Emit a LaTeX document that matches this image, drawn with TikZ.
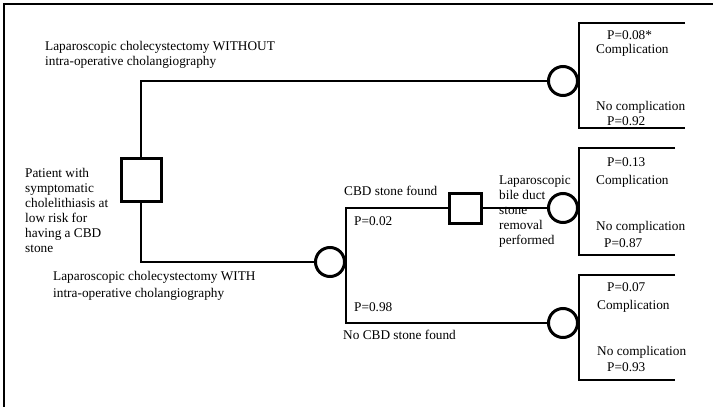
\documentclass[tikz,border=0pt]{standalone}
\usepackage{fontspec}
\setmainfont{Liberation Serif}
\usepackage{tikz}

\begin{document}
\begin{tikzpicture}[x=1pt, y=-1pt,
    decision/.style={rectangle, draw, line width=3pt, inner sep=0pt},
    chance/.style={circle, draw, line width=3pt, minimum size=29pt, inner sep=0pt},
    lbl/.style={anchor=west, inner sep=0pt, align=left, font=\fontsize{13.3}{15}\selectfont},
    branch/.style={line width=1.3pt}]
    \useasboundingbox (0,0) rectangle (713,407);
    \draw[line width=1.5pt] (4,407) -- (4,4) -- (713,4);

    \node[decision, minimum width=40pt, minimum height=43pt] (start) at (141,180) {};
    \node[decision, minimum width=32pt, minimum height=30pt] (removal) at (465,208) {};
    \node[chance] (noioc) at (563,81) {};
    \node[chance] (ioc) at (330,262) {};
    \node[chance] (found) at (563,208) {};
    \node[chance] (notfound) at (563,323) {};

    \coordinate (noioctop) at (685,23);
    \coordinate (noiocbot) at (685,128);
    \coordinate (foundtop) at (675,148);
    \coordinate (foundbot) at (675,255);
    \coordinate (notfoundtop) at (675,275);
    \coordinate (notfoundbot) at (675,380);

    \draw[branch] (start.north) |- (noioc.west);
    \draw[branch] (start.south) |- (ioc.west);
    \draw[branch] (removal.west) -| (ioc.east) |- (notfound.west);
    \draw[branch] (removal.east) -- (found.west);
    \draw[branch] (noioctop) -| (noioc.east) |- (noiocbot);
    \draw[branch] (foundtop) -| (found.east) |- (foundbot);
    \draw[branch] (notfoundtop) -| (notfound.east) |- (notfoundbot);

    \node[lbl] (patient) at (25,210) {Patient with\\symptomatic\\cholelithiasis at\\low risk for\\having a CBD\\stone};
    \node[lbl] (without) at (45,55) {Laparoscopic cholecystectomy WITHOUT\\intra-operative cholangiography};
    \node[lbl] (with) at (53,286) {Laparoscopic cholecystectomy WITH\\[2pt]intra-operative cholangiography};
    \node[lbl] (cbd) at (344,191) {CBD stone found};
    \node[lbl] (pcbd) at (354,221) {P=0.02};
    \node[lbl] (pnocbd) at (354,307) {P=0.98};
    \node[lbl] (nocbd) at (343,335) {No CBD stone found};
    \node[lbl] (lapbd) at (499,212) {Laparoscopic\\bile duct\\stone\\removal\\performed};

    \node[lbl] (p1) at (607,35) {P=0.08*};
    \node[lbl] (c1) at (596,50) {Complication};
    \node[lbl] (n1) at (596,107) {No complication};
    \node[lbl] (q1) at (607,121) {P=0.92};

    \node[lbl] (p2) at (607,162) {P=0.13};
    \node[lbl] (c2) at (596,181) {Complication};
    \node[lbl] (n2) at (596,227) {No complication};
    \node[lbl] (q2) at (604,243) {P=0.87};

    \node[lbl] (p3) at (607,287) {P=0.07};
    \node[lbl] (c3) at (597,306) {Complication};
    \node[lbl] (n3) at (597,352) {No complication};
    \node[lbl] (q3) at (607,367) {P=0.93};
\end{tikzpicture}
\end{document}
